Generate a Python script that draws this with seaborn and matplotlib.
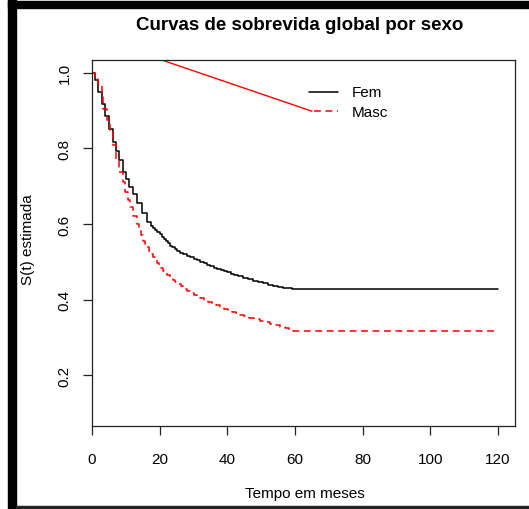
import matplotlib
matplotlib.use("Agg")
import matplotlib.pyplot as plt
import seaborn as sns
import pandas as pd
from matplotlib.patches import Rectangle

# ---- data ----
fem_time = [0, 0.9, 1.9, 2.9, 3.8, 5.1, 6.1, 7.1, 8.1, 9.1, 10.1, 11.0, 12.0, 13.4, 14.7,
            16.2, 17.4, 18.0, 18.6, 19.3, 20.0, 20.6, 21.2, 21.8, 22.4, 23.0, 23.7, 24.4,
            25.2, 26.0, 27.0, 28.0, 29.0, 30.0, 31.0, 32.0, 33.0, 34.0, 35.0, 36.0, 37.0,
            38.0, 39.0, 40.0, 41.0, 42.0, 43.0, 44.5, 46.0, 47.5, 49.0, 50.5, 52.0, 53.5,
            55.0, 56.5, 58.0, 59.2, 120]
fem_surv = [1.0, 0.982, 0.949, 0.918, 0.885, 0.852, 0.818, 0.792, 0.770, 0.739, 0.719, 0.697,
            0.679, 0.657, 0.629, 0.606, 0.596, 0.590, 0.584, 0.578, 0.573, 0.567, 0.561, 0.555,
            0.549, 0.543, 0.538, 0.533, 0.528, 0.524, 0.520, 0.516, 0.512, 0.508, 0.504, 0.500,
            0.496, 0.492, 0.488, 0.485, 0.482, 0.479, 0.475, 0.472, 0.469, 0.466, 0.463, 0.458,
            0.454, 0.450, 0.446, 0.443, 0.440, 0.437, 0.434, 0.432, 0.430, 0.428, 0.428]

masc_time = [0, 0.9, 1.9, 2.9, 3.35, 4.3, 5.3, 6.3, 7.1, 8.1, 9.1, 9.75, 10.5, 11.2, 12.2,
             13.2, 14.0, 14.5, 15.0, 15.6, 16.2, 16.8, 17.4, 18.0, 18.6, 19.2, 19.8, 20.4,
             21.0, 21.6, 22.3, 23.0, 23.8, 24.6, 25.4, 26.2, 27.0, 28.0, 29.0, 30.0, 31.0,
             32.0, 33.0, 34.2, 35.4, 36.6, 37.8, 39.0, 40.2, 41.4, 42.6, 43.8, 45.0, 46.5,
             48.0, 49.5, 51.0, 52.5, 54.0, 55.5, 57.0, 58.3, 59.5, 119]
masc_surv = [1.0, 0.99, 0.971, 0.936, 0.905, 0.874, 0.847, 0.809, 0.772, 0.739, 0.710, 0.684,
             0.664, 0.644, 0.622, 0.600, 0.587, 0.570, 0.556, 0.548, 0.540, 0.530, 0.521, 0.513,
             0.506, 0.498, 0.490, 0.483, 0.477, 0.471, 0.465, 0.459, 0.453, 0.447, 0.441, 0.435,
             0.429, 0.423, 0.418, 0.413, 0.408, 0.404, 0.400, 0.395, 0.390, 0.385, 0.380, 0.376,
             0.372, 0.368, 0.364, 0.360, 0.356, 0.352, 0.348, 0.344, 0.340, 0.336, 0.332, 0.328,
             0.324, 0.320, 0.317, 0.317]

stray_x = [20.6, 65.0]
stray_y = [1.034, 0.8985]

groups = ["Fem", "Masc"]
x_ticks = [0, 20, 40, 60, 80, 100, 120]
y_ticks = [0.2, 0.4, 0.6, 0.8, 1.0]

title = "Curvas de sobrevida global por sexo"
xlabel = "Tempo em meses"
ylabel = "S(t) estimada"

# ---- figure ----
sns.set_style("white")
plt.rcParams['font.family'] = ['Liberation Sans', 'DejaVu Sans']
plt.rcParams['text.color'] = 'black'
plt.rcParams['axes.labelcolor'] = 'black'
plt.rcParams['xtick.color'] = 'black'
plt.rcParams['ytick.color'] = 'black'

W, H = 529, 510
fig = plt.figure(figsize=(W / 100, H / 100), dpi=100)

def fx(px):
    return px / W

def fy(py):
    return 1 - py / H

ax = fig.add_axes([fx(92), fy(427.3), fx(514.7) - fx(92), fy(61) - fy(427.3)])

df = pd.concat([
    pd.DataFrame({"t": fem_time, "S": fem_surv, "sexo": groups[0]}),
    pd.DataFrame({"t": masc_time, "S": masc_surv, "sexo": groups[1]}),
])

sns.lineplot(data=df[df.sexo == "Fem"], x="t", y="S", ax=ax, color="black",
             drawstyle="steps-post", lw=1.1, estimator=None, legend=False)
sns.lineplot(data=df[df.sexo == "Masc"], x="t", y="S", ax=ax, color="red",
             drawstyle="steps-post", lw=1.1, estimator=None, legend=False,
             dashes=False)
ax.lines[-1].set_dashes([4.5, 3])

ax.plot(stray_x, stray_y, color="red", lw=1.0)

# legend drawn manually (R-style)
ax.plot([64.1, 72.7], [0.9505, 0.9505], color="black", lw=1.1, clip_on=False)
l2, = ax.plot([65.6, 72.7], [0.8985, 0.8985], color="red", lw=1.1, clip_on=False)
l2.set_dashes([4.5, 3])
ax.text(76.8, 0.9485, groups[0], fontsize=11, va="center", ha="left", color="black")
ax.text(76.8, 0.8975, groups[1], fontsize=11, va="center", ha="left", color="black")

ax.set_xlim(0, 124.9)
ax.set_ylim(0.065, 1.034)
ax.set_xticks(x_ticks)
ax.set_xticklabels([str(v) for v in x_ticks])
ax.set_yticks(y_ticks)
ax.set_yticklabels([f"{v:.1f}" for v in y_ticks])
ax.tick_params(axis="both", direction="out", length=6.5, width=0.9, color="#222222",
               labelsize=11, labelcolor="black")
ax.tick_params(axis="x", pad=12, bottom=True)
ax.tick_params(axis="y", pad=8, left=True, labelrotation=90)
for lab in ax.get_yticklabels():
    lab.set_va("center")

for s in ax.spines.values():
    s.set_visible(True)
    s.set_color("#222222")
    s.set_linewidth(0.9)

ax.set_xlabel("")
ax.set_ylabel("")
fig.text(fx(305), fy(494), xlabel, fontsize=11, ha="center", va="center", color="black")
fig.text(fx(28), fy(240), ylabel, fontsize=11, ha="center", va="center", rotation=90,
         color="black")
fig.text(fx(300), fy(26), title, fontsize=13.5, fontweight="bold", ha="center", va="center",
         color="black")

# outer frame (thick top/left, thin bottom)
fig.patches.append(Rectangle((fx(8), 0), fx(8), 1, transform=fig.transFigure,
                             color="black", zorder=10))
fig.patches.append(Rectangle((fx(8), fy(9)), 1, fy(2) - fy(9), transform=fig.transFigure,
                             color="black", zorder=10))
fig.patches.append(Rectangle((fx(16), fy(509)), 1, fy(507) - fy(509), transform=fig.transFigure,
                             color="#222222", zorder=10))

fig.savefig("out.png", dpi=100)
